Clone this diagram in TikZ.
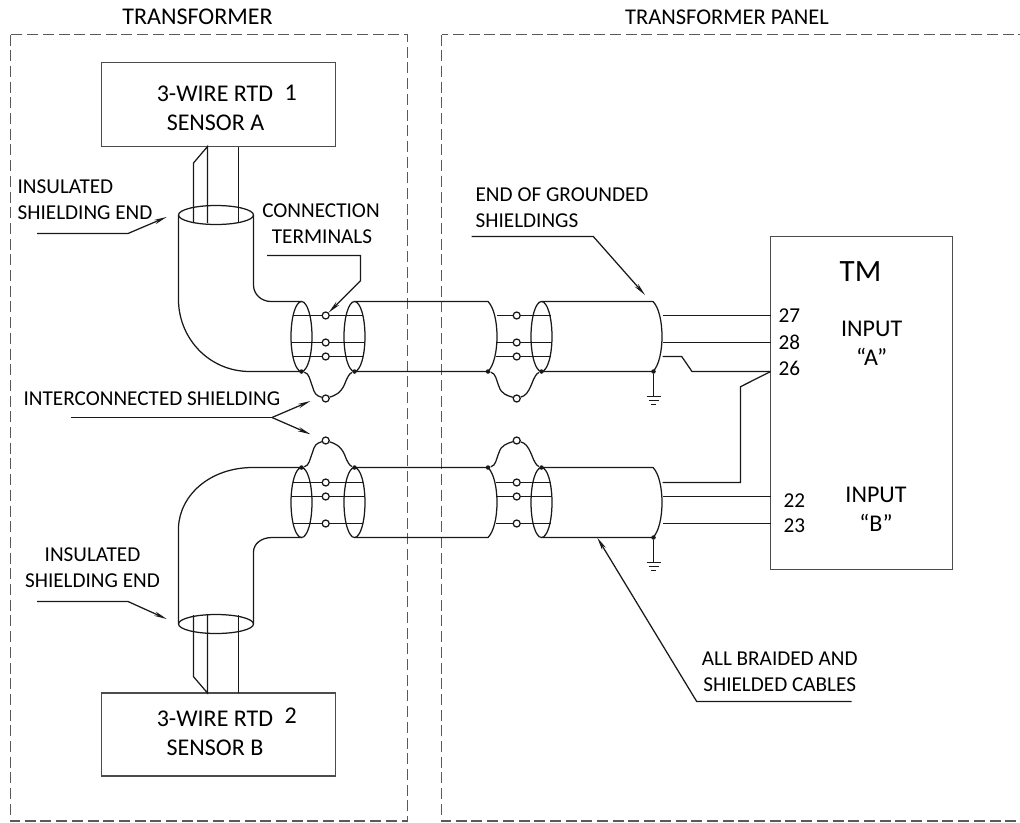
\documentclass[tikz,border=0pt]{standalone}
\usepackage{fontspec}
\usepackage{tikz}
\usetikzlibrary{arrows.meta,shapes.geometric}
\setmainfont{Carlito}
\definecolor{wirecol}{gray}{0.1}
\definecolor{boxcol}{gray}{0.3}
\definecolor{dashcol}{gray}{0.35}

\begin{document}
\begin{tikzpicture}[x=1pt, y=-1pt, line width=1.25pt, color=wirecol,
    lbl/.style = {font=\fontsize{21.2}{25}\selectfont, text=black, inner sep=0pt, anchor=base},
    lblw/.style = {lbl, anchor=base west},
    lblbig/.style = {lbl, font=\fontsize{24}{28}\selectfont},
    devbox/.style = {draw=boxcol, line width=1.4pt, rectangle, inner sep=0pt},
    zone/.style = {draw=dashcol, line width=1.3pt, dash pattern=on 11pt off 4.7pt},
    term/.style = {draw, fill=white, circle, inner sep=0pt, minimum size=7pt},
    shield/.style = {draw, ellipse, inner sep=0pt, minimum width=21pt, minimum height=70pt},
    dot/.style = {fill, circle, inner sep=0pt, minimum size=4.5pt},
    leader/.style = {-{Stealth[length=13pt,width=4.5pt]}}]
  \useasboundingbox (0,0) rectangle (1020,822);
  % zones
  \draw[zone] (10.5,34.5) rectangle (407.5,821);
  \draw[zone] (441.5,34.5) rectangle (1040,821);
  \node[lblbig] (lbltrafo) at (197.5,24) {TRANSFORMER};
  \node[lbl, font=\fontsize{22.5}{26}\selectfont] (lblpanel) at (727,24) {TRANSFORMER PANEL};

  % devices
  \node[devbox, minimum width=234pt, minimum height=84pt] (sensora) at (218.5,104.5) {};
  \node[devbox, minimum width=234pt, minimum height=83pt] (sensorb) at (218.5,734.5) {};
  \node[devbox, minimum width=182pt, minimum height=333pt] (tmbox) at (861.5,403) {};
  \node[lblbig] (rtda) at (215,101) {3-WIRE RTD};
  \node[lblbig, anchor=base west] (numa) at (284,100) {1};
  \node[lblbig] (sena) at (215.5,130) {SENSOR A};
  \node[lblbig] (rtdb) at (215,726) {3-WIRE RTD};
  \node[lblbig, anchor=base west] (numb) at (284,723) {2};
  \node[lblbig] (senb) at (215,755) {SENSOR B};
  \node[lbl, font=\fontsize{31}{36}\selectfont] (lbltm) at (860.5,281.7) {TM};
  \node[lblw] (pin27) at (778,322.7) {27};
  \node[lblw] (pin28) at (778,349.3) {28};
  \node[lblw] (pin26) at (778,375) {26};
  \node[lblw] (pin22) at (783,507.7) {22};
  \node[lblw] (pin23) at (783,532.7) {23};
  \node[lblbig] (inpa) at (871.7,336.7) {INPUT};
  \node[lblbig] (quota) at (871.7,365.7) {“A”};
  \node[lblbig] (inpb) at (876,502.7) {INPUT};
  \node[lblbig] (quotb) at (876,531.7) {“B”};

  % sensor leads and bends
  \draw (193.5,223) -- (193.5,163) -- (207.5,146.5) -- (207.5,223);
  \draw (238.5,146.5) -- (238.5,223);
  \draw (193.5,615) -- (193.5,676.7) -- (207.5,693) -- (207.5,615);
  \draw (238.5,615) -- (238.5,693);
  \node[shield, minimum width=75pt, minimum height=19pt] (enda) at (216,215) {};
  \node[shield, minimum width=75pt, minimum height=19pt] (endb) at (216,624) {};
  \draw (178.5,215) -- (178.5,302) .. controls (180,340) and (210,371.5) .. (250,371.5) -- (301.5,371.5);
  \draw (253.5,215) -- (253.5,285) .. controls (253.5,294) and (261,301.5) .. (271,301.5) -- (301.5,301.5);
  \draw (178.5,624) -- (178.5,527) .. controls (180,495) and (210,467.5) .. (253,467.5) -- (301.5,467.5);
  \draw (253.5,624) -- (253.5,552) .. controls (253.5,544) and (261,537.5) .. (272,537.5) -- (301.5,537.5);

  % cable runs
  \foreach \n/\ya/\yb in {up/301.5/371.5, lo/467.5/537.5} {
    \node[shield] (sl\n) at (301.5,{(\ya+\yb)/2}) {};
    \node[shield] (sr\n) at (354.5,{(\ya+\yb)/2}) {};
    \node[shield] (pl\n) at (541.5,{(\ya+\yb)/2}) {};
    \draw (354.5,\ya) -- (488,\ya) .. controls (500,\ya+12) and (500,\yb-12) .. (488,\yb) -- (354.5,\yb);
    \draw (541.5,\ya) -- (653,\ya) .. controls (665,\ya+12) and (665,\yb-12) .. (653,\yb) -- (541.5,\yb);
  }

  % wires with terminals
  \foreach \n/\y/\xa/\xb/\xc/\xd in {a/315.5/293/363/497/551, b/342.5/291/365/497/552, c/356.5/293/363/496/551,
      d/482.5/293/363/496/551, e/496.5/291/365/497/552, f/523.5/293/363/496/551} {
    \node[term] (tl\n) at (325.7,\y) {};
    \node[term] (tr\n) at (516.7,\y) {};
    \coordinate (la\n) at (\xa,\y);
    \coordinate (lb\n) at (\xb,\y);
    \coordinate (ra\n) at (\xc,\y);
    \coordinate (rb\n) at (\xd,\y);
    \draw (la\n) -- (tl\n) -- (lb\n);
    \draw (ra\n) -- (tr\n) -- (rb\n);
  }

  % interconnected shieldings
  \foreach \n/\xa/\xt/\xb/\yb/\s in {p/301.5/325.7/354.5/371.5/1, q/488/516.7/541.5/371.5/1,
      r/301.5/325.7/354.5/467.5/-1, s/488/516.7/541.5/467.5/-1} {
    \node[term] (ic\n) at (\xt,\yb+\s*27) {};
    \node[dot] (da\n) at (\xa,\yb) {};
    \node[dot] (db\n) at (\xb,\yb) {};
    \draw (da\n) .. controls (\xa+8,\yb+\s*2) and (\xa+8,\yb+\s*8) .. (\xa+11,\yb+\s*15)
      .. controls (\xa+13,\yb+\s*22) and (\xt-10,\yb+\s*24) .. (ic\n)
      .. controls (\xt+9,\yb+\s*24) and (\xb-14,\yb+\s*22) .. (\xb-10,\yb+\s*13)
      .. controls (\xb-7,\yb+\s*5) and (\xb-5,\yb+\s*2) .. (db\n);
  }

  % grounds
  \foreach \n/\y in {ga/371.5, gb/537.5} {
    \node[dot] (\n) at (653.5,\y) {};
    \coordinate (\n t) at (653.5,\y+25);
    \draw (\n) -- (\n t);
    \draw ([xshift=-7pt]\n t) -- ([xshift=7pt]\n t);
    \draw ([xshift=-5pt,yshift=-4pt]\n t) -- ([xshift=5pt,yshift=-4pt]\n t);
    \draw ([xshift=-2.5pt,yshift=-8pt]\n t) -- ([xshift=2.5pt,yshift=-8pt]\n t);
  }

  % wires into the monitor
  \foreach \n/\y in {ia/315.5, ib/342.5, ic/496.5, id/523.5} {
    \coordinate (\n a) at (663,\y);
    \coordinate (\n b) at (770.7,\y);
    \draw (\n a) -- (\n b);
  }
  \coordinate (jct) at (770.7,371.5);
  \draw (662.5,356.5) -- (681.7,356.5) -- (692,371.5) -- (jct);
  \draw (662.5,482.5) -- (740.5,482.5) -- (740.5,386.7) -- (jct);

  % callouts
  \node[lblw] (insa) at (17,193) {INSULATED};
  \node[lblw] (insb) at (17,219) {SHIELDING END};
  \coordinate (cea) at (37,233.5);
  \coordinate (ceb) at (166.7,217);
  \draw[leader] (cea) -- (128,233.5) -- (ceb);

  \node[lbl] (cona) at (321,217) {CONNECTION};
  \node[lbl] (conb) at (322,243) {TERMINALS};
  \coordinate (cfa) at (267,255.5);
  \draw[leader] (cfa) -- (360.5,255.5) -- (360.5,280.7) -- (tla);

  \node[lblw] (intc) at (23,405.7) {INTERCONNECTED SHIELDING};
  \coordinate (cga) at (70.7,417.5);
  \coordinate (cgb) at (272,417.5);
  \coordinate (cgc) at (310.5,401);
  \coordinate (cgd) at (310.5,434.3);
  \draw (cga) -- (cgb);
  \draw[leader] (cgb) -- (cgc);
  \draw[leader] (cgb) -- (cgd);

  \node[lbl] (insc) at (92.5,561.7) {INSULATED};
  \node[lbl] (insd) at (92.5,587.7) {SHIELDING END};
  \coordinate (cha) at (37,601.5);
  \coordinate (chb) at (166.7,619);
  \draw[leader] (cha) -- (128,601.5) -- (chb);

  \node[lblw] (gnda) at (475,201.7) {END OF GROUNDED};
  \node[lblw] (gndb) at (475,227.7) {SHIELDINGS};
  \coordinate (cia) at (471.7,236.5);
  \coordinate (cib) at (645,295);
  \draw[leader] (cia) -- (593.3,236.5) -- (cib);

  \node[lbl] (alla) at (779.7,665) {ALL BRAIDED AND};
  \node[lbl] (allb) at (779.7,691) {SHIELDED CABLES};
  \coordinate (cja) at (851.7,701.5);
  \coordinate (cjb) at (597.3,537.7);
  \draw[leader] (cja) -- (696.7,701.5) -- (cjb);
\end{tikzpicture}
\end{document}
